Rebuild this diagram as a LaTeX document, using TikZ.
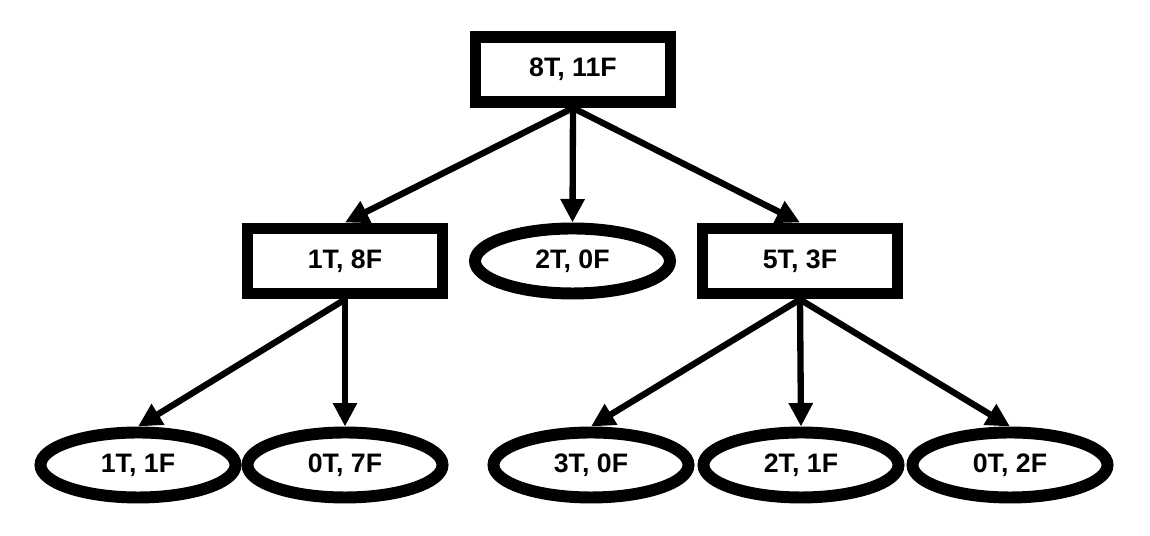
\documentclass[tikz,border=0pt]{standalone}
\usepackage{fontspec}
\setmainfont{Liberation Sans}
\usetikzlibrary{arrows.meta,shapes.geometric}

\tikzset{
  split/.style={draw, line width=6.8pt, minimum width=3.9cm, minimum height=1.3cm,
    font=\bfseries\fontsize{15.2}{18}\selectfont},
  leaf/.style={split, ellipse},
  branch/.style={-{Triangle[length=0.47cm,width=0.46cm]}, line width=3.6pt},
}

\begin{document}
\begin{tikzpicture}
  \useasboundingbox (0,0) rectangle (23,10.72);

  % root and first split
  \node[split] (root) at (11.46,9.33) {8T, 11F};
  \node[split] (left) at (6.90,5.50) {1T, 8F};
  \node[leaf] (mid) at (11.45,5.50) {2T, 0F};
  \node[split] (right) at (16.00,5.50) {5T, 3F};

  % leaves
  \node[leaf] (ll) at (2.76,1.42) {1T, 1F};
  \node[leaf] (lr) at (6.90,1.42) {0T, 7F};
  \node[leaf] (rl) at (11.82,1.42) {3T, 0F};
  \node[leaf] (rm) at (16.02,1.42) {2T, 1F};
  \node[leaf] (rr) at (20.20,1.42) {0T, 2F};

  \draw[branch] (root.south) -- (left.north);
  \draw[branch] (root.south) -- (mid.north);
  \draw[branch] (root.south) -- (right.north);

  \draw[branch] (left.south) -- (ll.north);
  \draw[branch] (left.south) -- (lr.north);

  \draw[branch] (right.south) -- (rl.north);
  \draw[branch] (right.south) -- (rm.north);
  \draw[branch] (right.south) -- (rr.north);
\end{tikzpicture}
\end{document}
